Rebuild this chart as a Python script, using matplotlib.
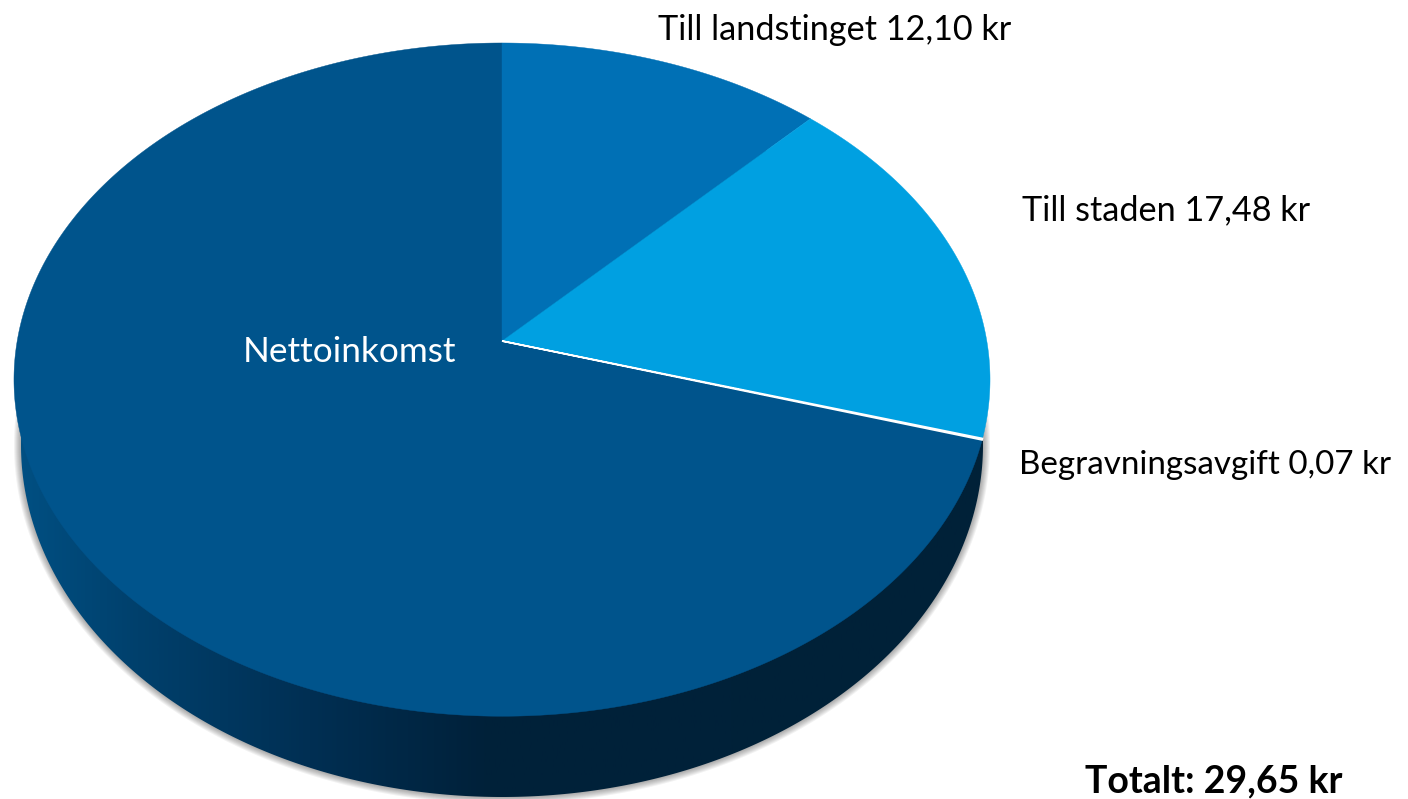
import numpy as np
import matplotlib
matplotlib.use('Agg')
import matplotlib.pyplot as plt
from matplotlib.colors import LinearSegmentedColormap
from matplotlib.patches import Polygon

# Slices in kr, clockwise from twelve o'clock
slice_names = ['Till landstinget', 'Till staden', 'Begravningsavgift', 'Nettoinkomst']
slice_values = [12.10, 17.48, 0.07, 70.35]
slice_colors = ['#0070b5', '#00a0e1', '#ffffff', '#00548c']
total_label = 'Totalt: 29,65 kr'

# Labels as printed next to the pie
label_texts = ['Till landstinget 12,10 kr', 'Till staden 17,48 kr', 'Begravningsavgift 0,07 kr']

# Colours of the side wall, left to right
wall_stops = [(0.0, '#004f82'), (0.12, '#00406c'), (0.30, '#002f53'),
              (0.48, '#00213a'), (1.0, '#002138')]

# Pie top is a circle seen in perspective
APEX_X, APEX_Y = 502, 341
SCALE_X, SCALE_Y, PERSP = 484.8, 332.2, 0.1147


def project(theta):
    # theta is clockwise from the top
    x = np.sin(theta)
    y = np.cos(theta)
    d = 1 + PERSP * y
    return APEX_X + SCALE_X * x / d, APEX_Y - SCALE_Y * y / d


def lower_rim(grow=0):
    t = np.linspace(0, 2 * np.pi, 720)
    return np.column_stack([502 + (481 + grow) * np.cos(t), 445 + (352 + grow) * np.sin(t)])


plt.rcParams['font.family'] = ['Lato', 'DejaVu Sans']
fig = plt.figure(figsize=(14.08, 7.99), dpi=100)
ax = fig.add_axes([0, 0, 1, 1])
ax.set_xlim(0, 1408)
ax.set_ylim(799, 0)
ax.axis('off')

# Soft shadow round the wall
for grow in range(1, 8):
    ax.add_patch(Polygon(lower_rim(grow), closed=True, fc='black', ec='none', alpha=0.05, zorder=1))

# Side wall with a left to right gradient
wall_cmap = LinearSegmentedColormap.from_list('wall', wall_stops)
grad = np.linspace(0, 1, 512).reshape(1, -1)
img = ax.imshow(grad, cmap=wall_cmap, extent=[21, 983, 799, 90], aspect='auto', zorder=2)
wall = Polygon(lower_rim(), closed=True, transform=ax.transData, fc='none', ec='none')
ax.add_patch(wall)
img.set_clip_path(wall)
ax.set_xlim(0, 1408)
ax.set_ylim(799, 0)

# Top of the pie, drawn from the values
fractions = np.array(slice_values) / np.sum(slice_values)
edges = np.concatenate([[0], np.cumsum(fractions)]) * 2 * np.pi
draw_order = [3, 0, 1, 2]
for i in draw_order:
    n = max(3, int(fractions[i] * 720))
    px, py = project(np.linspace(edges[i], edges[i + 1], n))
    pts = np.column_stack([np.r_[APEX_X, px], np.r_[APEX_Y, py]])
    lw = 1.2 if slice_names[i] == 'Begravningsavgift' else 0.3
    ax.add_patch(Polygon(pts, closed=True, fc=slice_colors[i], ec=slice_colors[i], lw=lw, zorder=3))

# Texts
ax.text(658, 40, label_texts[0], fontsize=24.7, color='black', va='baseline', zorder=5)
ax.text(1022, 220, label_texts[1], fontsize=24.7, color='black', va='baseline', zorder=5)
ax.text(1019, 474, label_texts[2], fontsize=23.9, color='black', va='baseline', zorder=5)
ax.text(243, 362, slice_names[3], fontsize=25.3, color='white', va='baseline', zorder=5)
ax.text(1085, 792, total_label, fontsize=27, fontweight='bold', color='black', va='baseline', zorder=5)

fig.savefig('out.png', dpi=100)
plt.close(fig)
